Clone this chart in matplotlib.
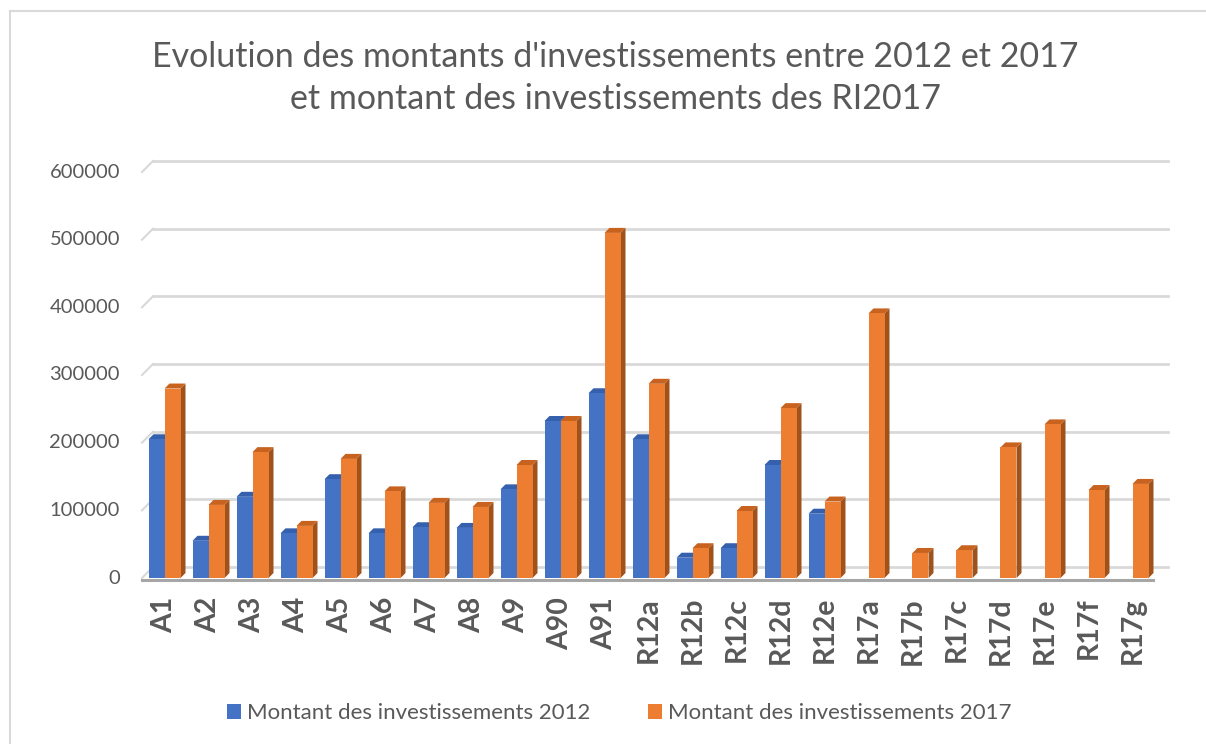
import matplotlib.pyplot as plt
from matplotlib.patches import Polygon, Rectangle
from matplotlib.lines import Line2D
import numpy as np

categories = ["A1", "A2", "A3", "A4", "A5", "A6", "A7", "A8", "A9", "A90", "A91",
              "R12a", "R12b", "R12c", "R12d", "R12e",
              "R17a", "R17b", "R17c", "R17d", "R17e", "R17f", "R17g"]
montant_2012 = [205000, 55000, 120000, 66000, 146000, 66000, 75000, 74000, 131000, 232000, 273000,
                205000, 30000, 44000, 167000, 95000,
                0, 0, 0, 0, 0, 0, 0]
montant_2017 = [280000, 108000, 186000, 77000, 176000, 128000, 111000, 105000, 167000, 232000, 510000,
                287000, 44000, 99000, 251000, 113000,
                391000, 37000, 41000, 193000, 227000, 130000, 139000]
yticks = [0, 100000, 200000, 300000, 400000, 500000, 600000]
series_names = ["Montant des investissements 2012", "Montant des investissements 2017"]

BLUE, BLUE_SIDE, BLUE_TOP = "#4472C4", "#2E5596", "#3560AE"
ORANGE, ORANGE_SIDE, ORANGE_TOP = "#ED7D31", "#A0521D", "#C8621F"
GRID = "#D9D9D9"
TEXT = "#595959"
FONT = "Lato"

W, H = 1206, 744
fig = plt.figure(figsize=(W / 100, H / 100), dpi=100)

# axes placed so that 0 -> y=578px and 600000 -> y=172px (front plane)
left, right, y0, y1 = 145, 1157, 578, 172
ax = fig.add_axes([left / W, 1 - y0 / H, (right - left) / W, (y0 - y1) / H])
n = len(categories)
ax.set_xlim(-0.5, n - 0.5)
ax.set_ylim(0, 600000)
ax.axis("off")

ux = n / (right - left)          # data units per pixel (x)
uy = 600000 / (y0 - y1)          # data units per pixel (y)

# back plane gridlines and little diagonal "walls"
bdx, bdy = 11 * ux, 11 * uy
for v in yticks:
    ax.add_line(Line2D([-0.5 - 3 * ux, -0.5 + bdx - 3 * ux], [v, v + bdy], color=GRID, lw=1.5, clip_on=False))
    ax.add_line(Line2D([-0.5 + bdx - 3 * ux, n - 0.5 + bdx], [v + bdy, v + bdy], color=GRID, lw=2, clip_on=False))
# floor front edge
ax.add_line(Line2D([-0.5 - 3 * ux, n - 0.5 - 4 * ux], [-2 * uy, -2 * uy], color="#A6A6A6", lw=2.2, clip_on=False, zorder=5))

# bars with a fake 3D side/top
bw = 16 * ux
ddx, ddy = 5 * ux, 5 * uy
x = np.arange(n)


def draw_bar(xl, v, front, side, top):
    if v <= 0:
        return
    ax.add_patch(Polygon([(xl + bw, 0), (xl + bw + ddx, ddy), (xl + bw + ddx, v + ddy), (xl + bw, v)],
                         closed=True, facecolor=side, edgecolor="none", zorder=3, clip_on=False))
    ax.add_patch(Polygon([(xl, v), (xl + ddx, v + ddy), (xl + bw + ddx, v + ddy), (xl + bw, v)],
                         closed=True, facecolor=top, edgecolor="none", zorder=3, clip_on=False))
    ax.add_patch(Rectangle((xl, 0), bw, v, facecolor=front, edgecolor="none", zorder=4, clip_on=False))


for i in range(n):
    xc = x[i] - 2.5 * ux
    draw_bar(xc - bw, montant_2012[i], BLUE, BLUE_SIDE, BLUE_TOP)
    draw_bar(xc, montant_2017[i], ORANGE, ORANGE_SIDE, ORANGE_TOP)

# y tick labels
for v in yticks:
    ax.text(-0.5 - 25 * ux, v, str(v), ha="right", va="center", fontsize=14.5,
            color=TEXT, family=FONT, clip_on=False)

# x category labels, rotated
for i, c in enumerate(categories):
    ax.text(x[i] - 2.5 * ux, -19 * uy, c, rotation=90, ha="center", va="top",
            fontsize=20.5, fontweight="bold", color=TEXT, family=FONT, clip_on=False)

# title
fig.text(615 / W, 1 - 78 / H,
         "Evolution des montants d'investissements entre 2012 et 2017\net montant des investissements des RI2017",
         ha="center", va="center", fontsize=24.5, color=TEXT, family=FONT, linespacing=1.4)

# legend
handles = [Rectangle((0, 0), 1, 1, facecolor=BLUE), Rectangle((0, 0), 1, 1, facecolor=ORANGE)]
leg = fig.legend(handles, series_names, loc="center", bbox_to_anchor=(619 / W, 1 - 713 / H), ncol=2,
                 frameon=False, handlelength=0.65, handleheight=0.65, handletextpad=0.25, columnspacing=2.6,
                 prop={"family": FONT, "size": 16})
for t in leg.get_texts():
    t.set_color(TEXT)

# chart frame
fig.add_artist(Line2D([10 / W, 10 / W], [0, 1 - 11 / H], color="#D9D9D9", lw=1.5, transform=fig.transFigure))
fig.add_artist(Line2D([10 / W, 1], [1 - 11 / H, 1 - 11 / H], color="#D9D9D9", lw=1.5, transform=fig.transFigure))

fig.savefig("out.png", dpi=100)
